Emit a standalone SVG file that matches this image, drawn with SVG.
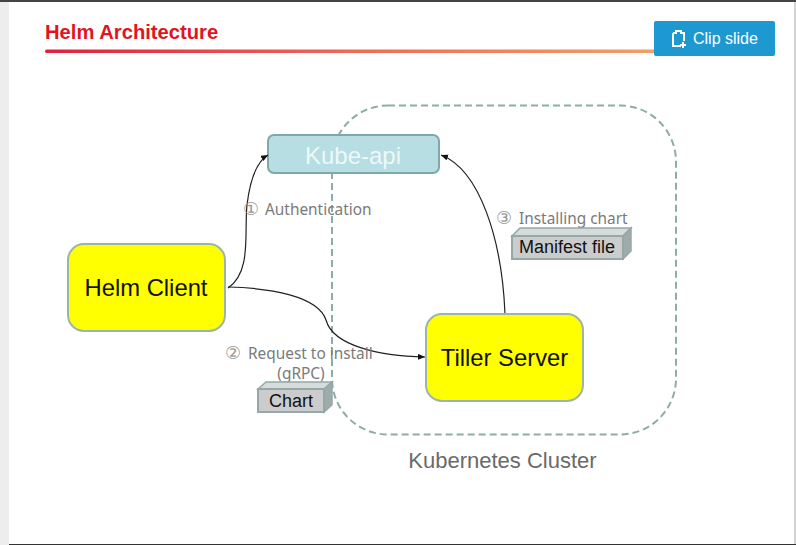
<svg xmlns="http://www.w3.org/2000/svg" width="796" height="545" viewBox="0 0 796 545">
<defs>
<linearGradient id="rule" x1="0" x2="1" y1="0" y2="0"><stop offset="0" stop-color="#e0203f"/><stop offset="0.5" stop-color="#ee6a58"/><stop offset="1" stop-color="#f2a06a"/></linearGradient>
<marker id="arrow" markerUnits="userSpaceOnUse" markerWidth="8" markerHeight="7" refX="7" refY="3" orient="auto"><path d="M0 0L7 3L0 6Z" fill="#111"/></marker>
</defs>
<style>
text{font-family:"Liberation Sans",Arial,sans-serif}
.node{fill:#ffff00;stroke:#9cb5a8;stroke-width:2}
.nt{font-size:23.8px;fill:#111;text-anchor:middle}
.lab{font-family:"Noto Sans","DejaVu Sans",sans-serif;font-size:15.4px;fill:#7a7a7a}
.num{font-size:18px;fill:#999}
.conn{fill:none;stroke:#222;stroke-width:1.2;marker-end:url(#arrow)}
.boxf{fill:#cccccc;stroke:#95a8a8;stroke-width:2}
.boxt{fill:#d6dbdb;stroke:#95a8a8;stroke-width:1.5}
.boxs{fill:#9eabab;stroke:#95a8a8;stroke-width:1.5}
.bt{font-size:18px;fill:#111;text-anchor:middle}
</style>
<rect width="796" height="545" fill="#fff"/>
<rect x="0" y="0" width="9" height="545" fill="#ededed"/>
<rect x="794" y="0" width="2" height="545" fill="#d4d4d4"/>
<rect x="0" y="0" width="796" height="2" fill="#444"/>
<rect x="9" y="544" width="787" height="1" fill="#333"/>
<g id="title">
<text x="45" y="39" font-size="20.2" font-weight="bold" fill="#e2141f">Helm Architecture</text>
<rect x="45" y="49.500" width="620" height="3.500" rx="1.7" fill="url(#rule)"/>
</g>
<g id="cluster">
<rect x="332" y="105.500" width="344" height="329" rx="56" fill="none" stroke="#8fabaa" stroke-width="2" stroke-dasharray="7 4"/>
<text x="502.500" y="468" font-family="'Noto Sans',sans-serif" font-size="22" fill="#6a6a6a" text-anchor="middle">Kubernetes Cluster</text>
</g>
<g id="kube-api">
<rect x="268" y="135" width="171" height="38" rx="6" fill="#b6dee3" stroke="#7fa8ab" stroke-width="2"/>
<text x="353" y="164" font-family="'Noto Sans',sans-serif" font-size="24" fill="#eef8f8" text-anchor="middle">Kube-api</text>
</g>
<g id="connectors">
<path class="conn" d="M228 288C252 272 244 232 247 205C250 180 256 162 268 155"/>
<path class="conn" d="M228 287C270 288 318 296 326 320C333 346 380 356 425 357"/>
<path class="conn" d="M505 314C502 240 480 170 441 155"/>
</g>
<g id="helm-client">
<rect class="node" x="68" y="244" width="157" height="87" rx="16"/>
<text class="nt" x="146" y="296">Helm Client</text>
</g>
<g id="tiller-server">
<rect class="node" x="426" y="314" width="157" height="87" rx="16"/>
<text class="nt" x="504.500" y="366">Tiller Server</text>
</g>
<g id="label-auth"><text class="lab" y="215"><tspan class="num" x="243">①</tspan><tspan x="261"> Authentication</tspan></text></g>
<g id="label-install"><text class="lab" y="224"><tspan class="num" x="496">③</tspan><tspan x="515"> Installing chart</tspan></text></g>
<g id="label-request">
<text class="lab" y="359"><tspan class="num" x="225">②</tspan><tspan x="244"> Request to install</tspan><tspan x="301" y="379" text-anchor="middle">(gRPC)</tspan></text>
</g>
<g id="manifest-file">
<path class="boxt" d="M512 236L520 228H631L623 236Z"/>
<path class="boxs" d="M623 236L631 228V251L623 259Z"/>
<rect class="boxf" x="512" y="236" width="111" height="23"/>
<text class="bt" x="567" y="253">Manifest file</text>
</g>
<g id="chart">
<path class="boxt" d="M258 389L266 382H332L324 389Z"/>
<path class="boxs" d="M324 389L332 382V405L324 412Z"/>
<rect class="boxf" x="258" y="389" width="66" height="23"/>
<text class="bt" x="291" y="407">Chart</text>
</g>
<g id="clip-slide">
<rect x="654" y="21" width="121" height="35" rx="2" fill="#1e98d0"/>
<path d="M673 33H676V31H681V33H684V41M681 46H673V33" fill="none" stroke="#fff" stroke-width="2"/>
<path d="M683 42V48M680 45H686" fill="none" stroke="#fff" stroke-width="2"/>
<text x="693" y="44" font-size="16" fill="#fff">Clip slide</text>
</g>
</svg>
